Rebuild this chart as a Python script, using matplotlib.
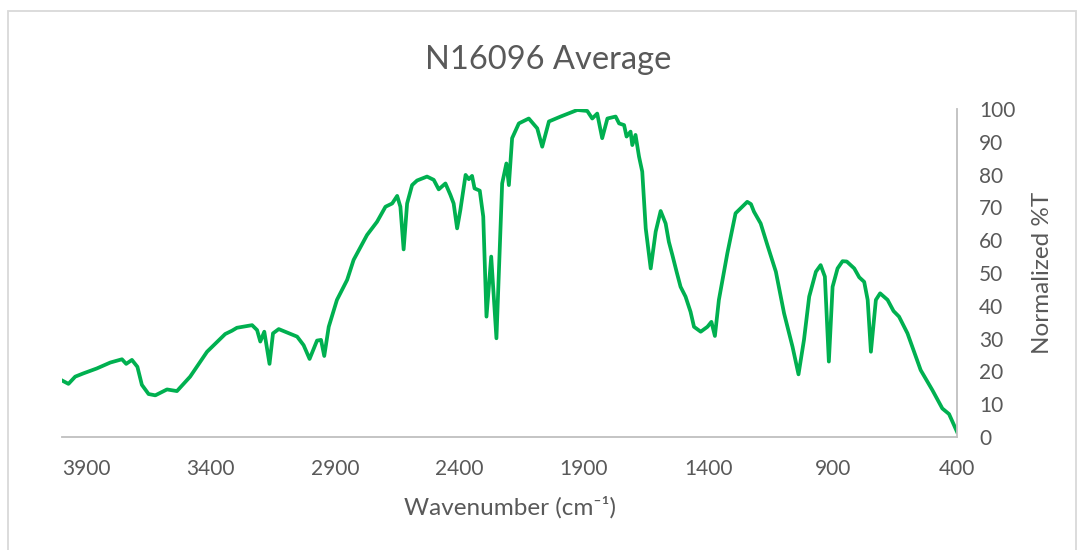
import matplotlib.pyplot as plt
from matplotlib.patches import Rectangle

# wavenumber (cm-1) and normalized %T
wavenumber = [3996, 3971, 3944, 3911, 3857, 3803, 3756, 3739, 3716, 3694,
              3676, 3649, 3622, 3575, 3535, 3482, 3414, 3341, 3314, 3294,
              3233, 3213, 3200, 3184, 3163, 3149, 3126, 3052, 3026, 3002,
              2972, 2956, 2943, 2925, 2892, 2851, 2825, 2771, 2731, 2697,
              2670, 2650, 2637, 2624, 2610, 2590, 2570, 2530, 2503, 2483,
              2456, 2436, 2423, 2409, 2396, 2375, 2362, 2349, 2339, 2318,
              2304, 2291, 2272, 2251, 2228, 2211, 2201, 2188, 2161, 2121,
              2087, 2067, 2040, 1993, 1926, 1886, 1866, 1846, 1826, 1805,
              1772, 1758, 1738, 1728, 1712, 1705, 1692, 1678, 1665, 1651,
              1631, 1611, 1591, 1571, 1558, 1544, 1527, 1511, 1491, 1471,
              1457, 1430, 1403, 1387, 1373, 1357, 1323, 1290, 1263, 1243,
              1228, 1216, 1189, 1162, 1128, 1095, 1061, 1037, 1015, 994,
              967, 948, 931, 915, 900, 880, 860, 843, 813, 793,
              773, 759, 746, 726, 709, 679, 655, 633, 599, 546,
              499, 459, 432, 400]
transmittance = [17.2, 16.2, 18.4, 19.4, 20.9, 22.7, 23.7, 22.3, 23.5, 21.4,
                 15.9, 13.1, 12.7, 14.5, 14.0, 18.4, 26.0, 31.4, 32.4, 33.3,
                 34.1, 32.6, 29.1, 32.1, 22.3, 31.6, 32.9, 30.6, 28.0, 23.8,
                 29.4, 29.6, 24.7, 33.6, 41.8, 47.9, 54.0, 61.6, 65.6, 70.2,
                 71.2, 73.5, 70.2, 57.2, 71.2, 76.8, 78.2, 79.4, 78.4, 75.5,
                 77.3, 73.8, 71.2, 63.6, 69.2, 79.9, 78.6, 79.6, 75.8, 75.1,
                 67.2, 36.7, 55.0, 30.1, 77.3, 83.4, 76.8, 91.1, 95.6, 97.1,
                 94.1, 88.5, 96.2, 97.7, 99.7, 99.4, 97.1, 98.6, 91.1, 97.1,
                 97.7, 95.6, 95.1, 91.6, 93.1, 89.0, 92.1, 85.5, 80.9, 63.6,
                 51.4, 62.6, 68.9, 65.1, 59.5, 55.5, 50.4, 45.8, 42.8, 38.2,
                 33.6, 32.1, 33.6, 35.1, 30.8, 41.8, 56.0, 68.2, 70.2, 71.7,
                 71.0, 68.7, 65.1, 58.5, 50.4, 37.7, 27.5, 19.1, 29.6, 42.8,
                 50.4, 52.4, 48.9, 23.0, 45.8, 51.4, 53.6, 53.5, 51.4, 48.7,
                 47.3, 41.8, 26.0, 41.8, 43.8, 41.8, 38.4, 36.7, 31.6, 20.4,
                 14.3, 8.7, 7.0, 1.6]

x_ticks = [3900, 3400, 2900, 2400, 1900, 1400, 900, 400]
y_ticks = [0, 10, 20, 30, 40, 50, 60, 70, 80, 90, 100]

text_col = "#595959"
plt.rcParams['font.family'] = ['Lato', 'DejaVu Sans']

fig = plt.figure(figsize=(10.78, 5.5), dpi=100)
ax = fig.add_axes([62/1078, 1-437/550, (957-62)/1078, (437-109)/550])

ax.plot(wavenumber, transmittance, color="#00B050", linewidth=2.7,
        solid_joinstyle="round")

ax.set_xlim(3997, 400)
ax.set_ylim(0, 100)
ax.set_xticks(x_ticks)
ax.set_yticks(y_ticks)

ax.yaxis.tick_right()
ax.yaxis.set_label_position("right")
ax.tick_params(axis="both", length=0, labelsize=15, labelcolor=text_col)
ax.tick_params(axis="y", pad=16)
ax.tick_params(axis="x", pad=16)

for side in ["top", "left"]:
    ax.spines[side].set_visible(False)
for side in ["bottom", "right"]:
    ax.spines[side].set_color("#bfbfbf")
    ax.spines[side].set_linewidth(1.3)

# title sits centred on the whole chart, not on the plot area
ax.set_title("N16096 Average", fontsize=23.5, color=text_col, pad=29, x=0.543)
ax.set_xlabel("Wavenumber (cm⁻¹)", fontsize=17.5, color=text_col, labelpad=12)
ax.set_ylabel("Normalized %T", fontsize=17.5, color=text_col, labelpad=12)

# light frame around the chart
fig.patches.append(Rectangle((8/1078, -0.01), (1076-8)/1078, 1-11/550+0.01,
                             transform=fig.transFigure, fill=False,
                             edgecolor="#d9d9d9", linewidth=1.3))

fig.savefig("out.png", dpi=100)
